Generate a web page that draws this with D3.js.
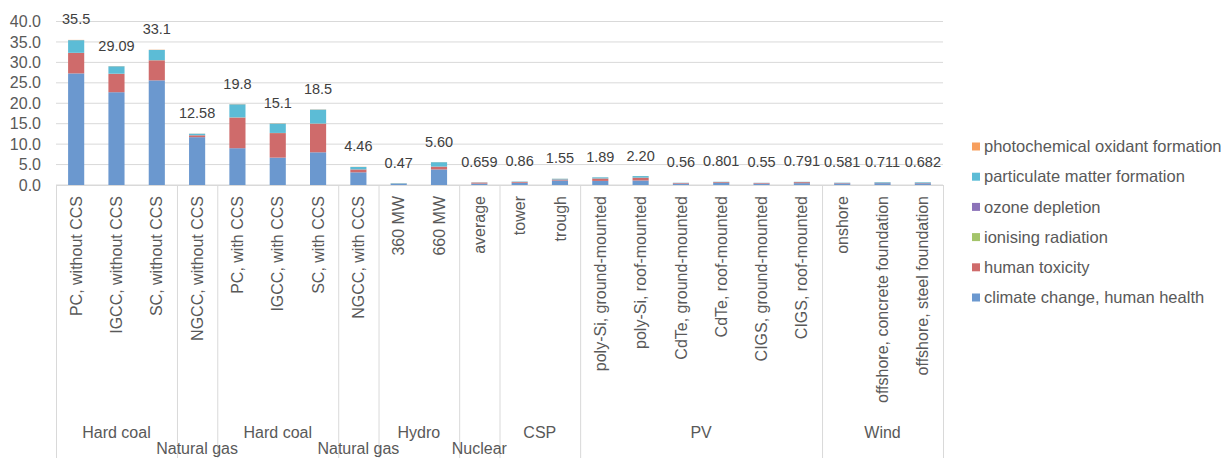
<!DOCTYPE html>
<html lang="en">
<head>
    <meta charset="UTF-8">
    <title>Human health impacts by technology</title>
    <script src="https://cdn.jsdelivr.net/npm/d3@7"></script>
    <style>
        body { margin: 0; background: #fff; font-family: "Liberation Sans", Arial, sans-serif; }
        svg text { font-family: "Liberation Sans", Arial, sans-serif; }
    </style>
</head>
<body>
    <div id="chart"></div>
    <script>
        // categories and their groups
        const categories = [
            "PC, without CCS", "IGCC, without CCS", "SC, without CCS",
            "NGCC, without CCS",
            "PC, with CCS", "IGCC, with CCS", "SC, with CCS",
            "NGCC, with CCS",
            "360 MW", "660 MW",
            "average",
            "tower", "trough",
            "poly-Si, ground-mounted", "poly-Si, roof-mounted", "CdTe, ground-mounted",
            "CdTe, roof-mounted", "CIGS, ground-mounted", "CIGS, roof-mounted",
            "onshore", "offshore, concrete foundation", "offshore, steel foundation"
        ];
        const groupNames = ["Hard coal", "Natural gas", "Hard coal", "Natural gas", "Hydro", "Nuclear", "CSP", "PV", "Wind"];
        const groupSizes = [3, 1, 3, 1, 2, 1, 2, 6, 3];

        // series values (stacked, bottom to top)
        const climateChange = [27.3, 22.7, 25.6, 11.7, 9.0, 6.7, 8.0, 3.1, 0.3, 3.8, 0.35, 0.55, 1.1, 1.0, 1.1, 0.35, 0.5, 0.35, 0.45, 0.4, 0.45, 0.42];
        const humanToxicity = [5.0, 4.5, 4.9, 0.45, 7.5, 6.0, 7.0, 0.7, 0.05, 0.7, 0.25, 0.2, 0.25, 0.6, 0.7, 0.15, 0.2, 0.15, 0.25, 0.1, 0.1, 0.1];
        const ionisingRadiation = [0.03, 0.02, 0.03, 0.01, 0.04, 0.03, 0.04, 0.01, 0, 0.01, 0.01, 0, 0, 0.01, 0.01, 0, 0, 0, 0, 0, 0, 0];
        const ozoneDepletion = [0.01, 0.01, 0.01, 0.01, 0.01, 0.01, 0.01, 0.01, 0, 0, 0, 0, 0, 0, 0, 0, 0, 0, 0, 0, 0, 0];
        const particulateMatter = [3.1, 1.82, 2.5, 0.38, 3.2, 2.3, 3.4, 0.6, 0.11, 1.07, 0.045, 0.1, 0.18, 0.27, 0.38, 0.055, 0.095, 0.045, 0.085, 0.075, 0.155, 0.156];
        const photochemical = [0.06, 0.04, 0.06, 0.03, 0.05, 0.06, 0.05, 0.04, 0.01, 0.02, 0.004, 0.01, 0.02, 0.01, 0.01, 0.005, 0.006, 0.005, 0.006, 0.006, 0.006, 0.006];
        const totalLabels = ["35.5", "29.09", "33.1", "12.58", "19.8", "15.1", "18.5", "4.46", "0.47", "5.60", "0.659", "0.86", "1.55", "1.89", "2.20", "0.56", "0.801", "0.55", "0.791", "0.581", "0.711", "0.682"];
        const yTicks = [0, 5, 10, 15, 20, 25, 30, 35, 40];

        const series = [
            { key: "climate", name: "climate change, human health", values: climateChange, color: "#6b98cf" },
            { key: "tox", name: "human toxicity", values: humanToxicity, color: "#cf6b6b" },
            { key: "ion", name: "ionising radiation", values: ionisingRadiation, color: "#a3c46a" },
            { key: "ozone", name: "ozone depletion", values: ozoneDepletion, color: "#8c73b8" },
            { key: "pm", name: "particulate matter formation", values: particulateMatter, color: "#5cbcd6" },
            { key: "photo", name: "photochemical oxidant formation", values: photochemical, color: "#f79f5e" }
        ];

        const width = 1232, height = 458;
        const plotLeft = 56, plotRight = 943, plotTop = 21.5, plotBottom = 185;

        const rows = categories.map((c, i) => {
            const r = { cat: c, label: totalLabels[i] };
            series.forEach(s => r[s.key] = s.values[i]);
            return r;
        });

        const svg = d3.select("#chart").append("svg")
            .attr("width", width)
            .attr("height", height);

        const x = d3.scaleBand().domain(categories).range([plotLeft, plotRight]).paddingInner(0.6).paddingOuter(0.3);
        const y = d3.scaleLinear().domain([0, 40]).range([plotBottom, plotTop]);

        // gridlines
        svg.append("g").selectAll("line")
            .data(yTicks)
            .enter().append("line")
            .attr("x1", plotLeft).attr("x2", plotRight)
            .attr("y1", d => y(d)).attr("y2", d => y(d))
            .attr("stroke", "#d9d9d9").attr("stroke-width", 1);

        // y axis labels
        const yAxis = svg.append("g")
            .attr("transform", `translate(${plotLeft - 15},0)`)
            .call(d3.axisLeft(y).tickValues(yTicks).tickFormat(d3.format(".1f")).tickSize(0).tickPadding(0));
        yAxis.select(".domain").remove();
        yAxis.selectAll("text").attr("font-size", 16).attr("fill", "#595959");

        // stacked bars
        const stack = d3.stack().keys(series.map(s => s.key));
        const stacked = stack(rows);

        svg.append("g").selectAll("g")
            .data(stacked)
            .enter().append("g")
            .attr("fill", (d, i) => series[i].color)
            .selectAll("rect")
            .data(d => d)
            .enter().append("rect")
            .attr("x", d => x(d.data.cat))
            .attr("y", d => y(d[1]))
            .attr("width", x.bandwidth())
            .attr("height", d => Math.max(0, y(d[0]) - y(d[1])));

        // total labels
        const topLayer = stacked[stacked.length - 1];
        svg.append("g").selectAll("text")
            .data(topLayer)
            .enter().append("text")
            .attr("x", d => x(d.data.cat) + x.bandwidth() / 2)
            .attr("y", d => y(d[1]) - 15.5)
            .attr("text-anchor", "middle")
            .attr("font-size", 14.5)
            .attr("fill", "#404040")
            .text(d => d.data.label);

        // category axis
        svg.append("line")
            .attr("x1", plotLeft).attr("x2", plotRight)
            .attr("y1", plotBottom + 0.5).attr("y2", plotBottom + 0.5)
            .attr("stroke", "#d9d9d9");

        svg.append("g").selectAll("text")
            .data(categories)
            .enter().append("text")
            .attr("transform", d => `translate(${x(d) + x.bandwidth() / 2},196) rotate(-90)`)
            .attr("dy", "0.35em")
            .attr("text-anchor", "end")
            .attr("font-size", 16)
            .attr("fill", "#595959")
            .text(d => d);

        // groups (single-category groups drop to a second row, as in the original)
        let start = 0;
        const groups = groupNames.map((g, i) => {
            const o = { name: g, from: start, to: start + groupSizes[i] };
            start += groupSizes[i];
            return o;
        });
        const bounds = [0].concat(groups.map(g => g.to));
        const xEdge = i => plotLeft + (plotRight - plotLeft) * i / categories.length;

        svg.append("g").selectAll("line")
            .data(bounds)
            .enter().append("line")
            .attr("x1", d => xEdge(d) + 0.5).attr("x2", d => xEdge(d) + 0.5)
            .attr("y1", plotBottom).attr("y2", height)
            .attr("stroke", "#d9d9d9");

        svg.append("g").selectAll("text")
            .data(groups)
            .enter().append("text")
            .attr("x", d => (xEdge(d.from) + xEdge(d.to)) / 2)
            .attr("y", d => d.to - d.from === 1 ? 454 : 438)
            .attr("text-anchor", "middle")
            .attr("font-size", 16)
            .attr("fill", "#595959")
            .text(d => d.name);

        // legend (reverse order)
        const legend = svg.append("g").selectAll("g")
            .data(series.slice().reverse())
            .enter().append("g")
            .attr("transform", (d, i) => `translate(972,${146.5 + i * 30.2})`);
        legend.append("rect")
            .attr("x", 0).attr("y", -4).attr("width", 8).attr("height", 8)
            .attr("fill", d => d.color);
        legend.append("text")
            .attr("x", 12).attr("dy", "0.35em")
            .attr("font-size", 16.5)
            .attr("fill", "#595959")
            .text(d => d.name);
    </script>
</body>
</html>
